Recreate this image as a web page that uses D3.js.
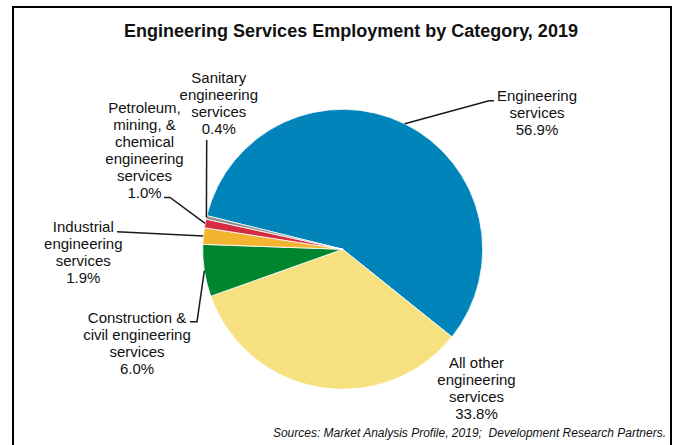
<!DOCTYPE html>
<html lang="en">
<head>
    <meta charset="UTF-8">
    <title>Engineering Services Employment</title>
    <script src="https://d3js.org/d3.v7.min.js"></script>
    <style>
        body { margin: 0; background: #fff; }
        text { font-family: 'Liberation Sans', Arial, sans-serif; fill: #111; }
    </style>
</head>
<body>
<script>
    // data
    const categories = [
        "Engineering services",
        "All other engineering services",
        "Construction & civil engineering services",
        "Industrial engineering services",
        "Petroleum, mining, & chemical engineering services",
        "Sanitary engineering services"
    ];
    const shares = [56.9, 33.8, 6.0, 1.9, 1.0, 0.4];
    const labelLines = [
        ["Engineering", "services"],
        ["All other", "engineering", "services"],
        ["Construction &", "civil engineering", "services"],
        ["Industrial", "engineering", "services"],
        ["Petroleum,", "mining, &", "chemical", "engineering", "services"],
        ["Sanitary", "engineering", "services"]
    ];
    const colors = ["#0084b9", "#f6e07f", "#00852f", "#f3b431", "#d42d41", "#8c8c8c"];

    const width = 679, height = 445;
    const cx = 342.7, cy = 249.3, radius = 140;
    const lineGap = 17;

    // label placement (label centre x, first baseline, leader points on the label side)
    const labelLayout = [
        {x: 537,   y: 101,   leader: [[494, 100.7], [489, 100.7]]},
        {x: 476.5, y: 367.5, leader: null},
        {x: 137,   y: 322.7, leader: [[190, 321.7], [197, 321.7]]},
        {x: 83.3,  y: 232.3, leader: [[117, 231.7]]},
        {x: 144.5, y: 113.3, leader: [[164, 197.5], [170, 197.5]]},
        {x: 218.8, y: 83.3,  leader: [[206.7, 140]]}
    ];

    const svg = d3.select("body").append("svg")
        .attr("width", width)
        .attr("height", height);

    svg.append("rect")
        .attr("x", 13).attr("y", 7)
        .attr("width", 658).attr("height", 460)
        .attr("fill", "#fff")
        .attr("stroke", "#000")
        .attr("stroke-width", 2);

    svg.append("text")
        .attr("x", 351).attr("y", 37)
        .attr("text-anchor", "middle")
        .style("font-size", "18px")
        .style("font-weight", "bold")
        .text("Engineering Services Employment by Category, 2019");

    const start = -76.1 * Math.PI / 180;
    const pie = d3.pie().sort(null)
        .startAngle(start)
        .endAngle(start + 2 * Math.PI);
    const arcs = pie(shares);

    const arc = d3.arc().innerRadius(0).outerRadius(radius);

    const g = svg.append("g").attr("transform", `translate(${cx},${cy})`);

    g.selectAll("path.slice")
        .data(arcs)
        .enter().append("path")
        .attr("class", "slice")
        .attr("d", arc)
        .attr("fill", (d, i) => colors[i])
        .attr("stroke", "#fff")
        .attr("stroke-width", 0.8);

    // leader lines: label side points, then the slice's mid point on the rim
    const line = d3.line();
    arcs.forEach((d, i) => {
        const lay = labelLayout[i];
        if (!lay.leader) return;
        const mid = (d.startAngle + d.endAngle) / 2;
        const rim = [cx + radius * Math.sin(mid), cy - radius * Math.cos(mid)];
        svg.append("path")
            .attr("d", line(lay.leader.concat([rim])))
            .attr("fill", "none")
            .attr("stroke", "#1a1a1a")
            .attr("stroke-width", 1.5);
    });

    const fmt = d3.format(".1f");
    labelLayout.forEach((lay, i) => {
        const lines = labelLines[i].concat([fmt(shares[i]) + "%"]);
        const t = svg.append("text")
            .attr("text-anchor", "middle")
            .style("font-size", "15px");
        lines.forEach((s, k) => {
            t.append("tspan")
                .attr("x", lay.x)
                .attr("y", lay.y + k * lineGap)
                .text(s);
        });
    });

    svg.append("text")
        .attr("x", 666).attr("y", 437)
        .attr("text-anchor", "end")
        .style("font-size", "12px")
        .style("font-style", "italic")
        .style("white-space", "pre")
        .text("Sources: Market Analysis Profile, 2019;  Development Research Partners.");
</script>
</body>
</html>
